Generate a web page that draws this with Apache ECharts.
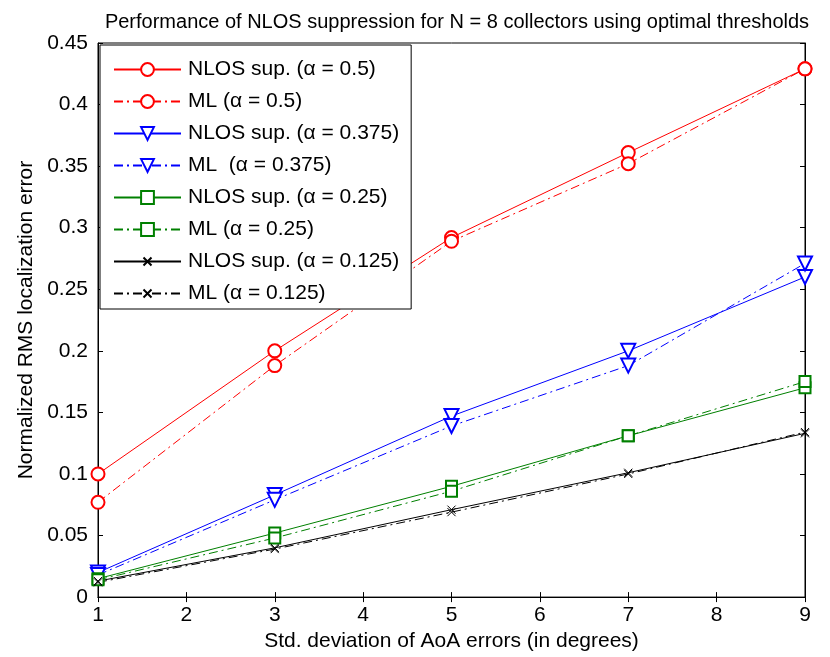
<!DOCTYPE html>
<html>
<head>
<meta charset="utf-8">
<script src="https://cdn.jsdelivr.net/npm/echarts@6/dist/echarts.min.js"></script>
<style>
  html, body { margin: 0; padding: 0; background: #fff; }
  #chart { width: 830px; height: 657px; }
</style>
</head>
<body>
<div id="chart"></div>
<script>
// x values (std. deviation of AoA errors, degrees)
var xValues = [1, 3, 5, 7, 9];

var nlosA500 = [0.100, 0.200, 0.292, 0.361, 0.429];
var mlA500   = [0.077, 0.188, 0.289, 0.352, 0.429];
var nlosA375 = [0.020, 0.083, 0.147, 0.200, 0.260];
var mlA375   = [0.018, 0.079, 0.139, 0.188, 0.271];
var nlosA250 = [0.015, 0.052, 0.090, 0.131, 0.170];
var mlA250   = [0.014, 0.048, 0.086, 0.131, 0.175];
var nlosA125 = [0.013, 0.040, 0.071, 0.101, 0.133];
var mlA125   = [0.012, 0.039, 0.069, 0.100, 0.134];

var seriesNames = [
  'NLOS sup. (\u03b1 = 0.5)',
  'ML (\u03b1 = 0.5)',
  'NLOS sup. (\u03b1 = 0.375)',
  'ML  (\u03b1 = 0.375)',
  'NLOS sup. (\u03b1 = 0.25)',
  'ML (\u03b1 = 0.25)',
  'NLOS sup. (\u03b1 = 0.125)',
  'ML (\u03b1 = 0.125)'
];

var FONT = 'Liberation Sans, Arial, sans-serif';
var dashDot = [9, 4, 2, 4];
// small x inside a padded box so it renders smaller than the other markers
var xMark = 'path://M-3,-3M13,13M0,0L10,10M10,0L0,10';

function pairs(ys) {
  return xValues.map(function (x, i) { return [x, ys[i]]; });
}

function mkSeries(name, ys, color, dashed, symbol, rotate, size) {
  return {
    name: name,
    type: 'line',
    data: pairs(ys),
    symbol: symbol,
    symbolSize: size,
    symbolRotate: rotate,
    showAllSymbol: true,
    animation: false,
    itemStyle: { color: color, borderColor: color, borderWidth: 1 },
    lineStyle: { color: color, width: 1, type: dashed ? dashDot : 'solid' },
    emphasis: { disabled: true }
  };
}

var myChart = echarts.init(document.getElementById('chart'));

var option = {
  backgroundColor: '#fff',
  animation: false,
  title: {
    text: 'Performance of NLOS suppression for N = 8 collectors using optimal thresholds',
    left: 452,
    textAlign: 'center',
    top: 7,
    textStyle: { fontFamily: FONT, fontSize: 20, fontWeight: 'normal', color: '#000' }
  },
  legend: {
    orient: 'vertical',
    left: 100,
    top: 45,
    padding: [14, 12, 5, 13],
    itemGap: 11,
    itemWidth: 67,
    itemHeight: 16,
    backgroundColor: '#fff',
    borderColor: '#000',
    borderWidth: 1,
    borderRadius: 0,
    textStyle: { fontFamily: FONT, fontSize: 21, color: '#000', padding: [0, 0, 0, 2] },
    data: seriesNames
  },
  grid: {
    left: 98, right: 25, top: 43, bottom: 57,
    show: true, borderColor: '#000', borderWidth: 1
  },
  xAxis: [{
    type: 'value', min: 1, max: 9, interval: 1,
    name: 'Std. deviation of AoA errors (in degrees)',
    nameLocation: 'middle', nameGap: 33,
    nameTextStyle: { fontFamily: FONT, fontSize: 21, color: '#000' },
    axisLine: { show: true, lineStyle: { color: '#000' } },
    axisTick: { inside: true, length: 5, lineStyle: { color: '#000' } },
    axisLabel: { fontFamily: FONT, fontSize: 21, color: '#000', margin: 8 },
    splitLine: { show: false }
  }, {
    type: 'value', position: 'top', min: 1, max: 9, interval: 1,
    axisLine: { show: true, lineStyle: { color: '#000' } },
    axisTick: { inside: true, length: 5, lineStyle: { color: '#000' } },
    axisLabel: { show: false },
    splitLine: { show: false }
  }],
  yAxis: [{
    type: 'value', min: 0, max: 0.45, interval: 0.05,
    name: 'Normalized RMS localization error',
    nameLocation: 'middle', nameGap: 61,
    nameTextStyle: { fontFamily: FONT, fontSize: 21, color: '#000' },
    axisLine: { show: true, lineStyle: { color: '#000' } },
    axisTick: { inside: true, length: 5, lineStyle: { color: '#000' } },
    axisLabel: { fontFamily: FONT, fontSize: 21, color: '#000', margin: 10 },
    splitLine: { show: false }
  }, {
    type: 'value', position: 'right', min: 0, max: 0.45, interval: 0.05,
    axisLine: { show: true, lineStyle: { color: '#000' } },
    axisTick: { inside: true, length: 5, lineStyle: { color: '#000' } },
    axisLabel: { show: false },
    splitLine: { show: false }
  }],
  series: [
    mkSeries(seriesNames[0], nlosA500, '#ff0000', false, 'emptyCircle', 0, 13),
    mkSeries(seriesNames[1], mlA500, '#ff0000', true, 'emptyCircle', 0, 13),
    mkSeries(seriesNames[2], nlosA375, '#0000ff', false, 'emptyTriangle', 180, 14),
    mkSeries(seriesNames[3], mlA375, '#0000ff', true, 'emptyTriangle', 180, 14),
    mkSeries(seriesNames[4], nlosA250, '#008000', false, 'emptyRect', 0, 11),
    mkSeries(seriesNames[5], mlA250, '#008000', true, 'emptyRect', 0, 11),
    mkSeries(seriesNames[6], nlosA125, '#000000', false, xMark, 0, 13),
    mkSeries(seriesNames[7], mlA125, '#000000', true, xMark, 0, 13)
  ]
};

myChart.setOption(option);
</script>
</body>
</html>
